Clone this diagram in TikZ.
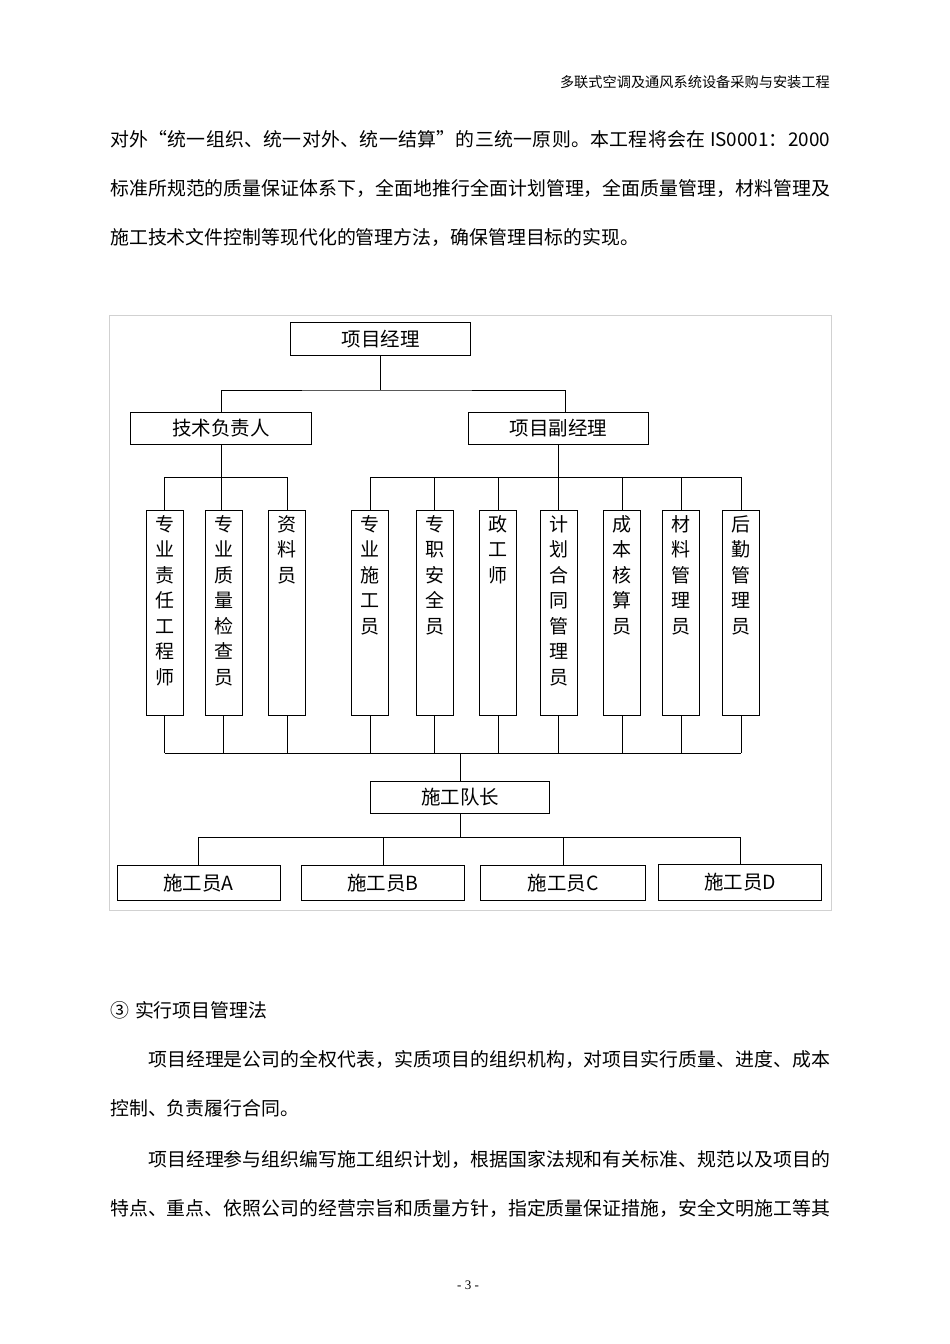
\documentclass[tikz,border=0pt]{standalone}
\usepackage{fontspec}
\setmainfont{Liberation Serif}
\newfontfamily\cjk{Noto Sans CJK SC}
\newcommand{\jl}[2]{\parbox{#1}{\XeTeXlinebreaklocale "zh"\XeTeXlinebreakskip=0pt plus 3pt\relax\parfillskip=0pt\relax\cjk\fontsize{18.9pt}{22pt}\selectfont #2}}
\newcommand{\vtxt}[1]{\parbox[c][195pt][t]{22pt}{\centering\cjk\fontsize{19pt}{25.5pt}\selectfont #1}}
\tikzset{
  hbox/.style={draw, line width=0.9pt, inner sep=0pt, minimum height=32pt, font=\cjk\fontsize{19.5pt}{21pt}\selectfont},
  vbox/.style={draw, line width=0.9pt, inner sep=5pt, minimum width=37pt, minimum height=205pt, anchor=north},
  link/.style={line width=0.9pt},
  ptext/.style={anchor=west, inner sep=0pt, font=\cjk\fontsize{18.9pt}{22pt}\selectfont},
  frame/.style={draw=black!18, line width=0.8pt}
}
\begin{document}
\begin{tikzpicture}[x=1pt,y=-1pt]
\path[use as bounding box, fill=white] (0,0) rectangle (950,1344);

% header and text
\node[anchor=east, inner sep=0pt, font=\cjk\fontsize{14.2pt}{16pt}\selectfont] (hdr) at (830,82) {多联式空调及通风系统设备采购与安装工程};
\node[anchor=west, inner sep=0pt] (l1) at (110,139) {\jl{720pt}{对外“统一组织、统一对外、统一结算”的三统一原则。本工程将会在 IS0001：2000}};
\node[anchor=west, inner sep=0pt] (l2) at (110,188) {\jl{720pt}{标准所规范的质量保证体系下，全面地推行全面计划管理，全面质量管理，材料管理及}};
\node[ptext] (l3) at (110,238) {施工技术文件控制等现代化的管理方法，确保管理目标的实现。};

% chart frame
\draw[frame] (109,315) rectangle (831,910);

% top level
\node[hbox, minimum width=180pt, minimum height=33pt] (pm) at (380.5,339) {项目经理};
\node[hbox, minimum width=181pt] (tech) at (221,428.5) {技术负责人};
\node[hbox, minimum width=180pt] (dpm) at (558.5,428.5) {项目副经理};

% vertical boxes
\node[vbox] (v1) at (164.5,510) {\vtxt{专\\业\\责\\任\\工\\程\\师}};
\node[vbox] (v2) at (223.5,510) {\vtxt{专\\业\\质\\量\\检\\查\\员}};
\node[vbox] (v3) at (287,510) {\vtxt{资\\料\\员}};
\node[vbox] (v4) at (370,510) {\vtxt{专\\业\\施\\工\\员}};
\node[vbox] (v5) at (434.5,510) {\vtxt{专\\职\\安\\全\\员}};
\node[vbox] (v6) at (498,510) {\vtxt{政\\工\\师}};
\node[vbox] (v7) at (558.5,510) {\vtxt{计\\划\\合\\同\\管\\理\\员}};
\node[vbox] (v8) at (622,510) {\vtxt{成\\本\\核\\算\\员}};
\node[vbox] (v9) at (681,510) {\vtxt{材\\料\\管\\理\\员}};
\node[vbox] (v10) at (741,510) {\vtxt{后\\勤\\管\\理\\员}};

% lower levels
\node[hbox, minimum width=179pt] (lead) at (460,797.5) {施工队长};
\node[hbox, minimum width=163pt, minimum height=35pt] (wa) at (198.5,883) {施工员A};
\node[hbox, minimum width=163pt, minimum height=35pt] (wb) at (383,883) {施工员B};
\node[hbox, minimum width=165pt, minimum height=35pt] (wc) at (563,883) {施工员C};
\node[hbox, minimum width=163pt, minimum height=36pt, line width=1.5pt] (wd) at (740,882.5) {施工员D};

% junction levels
\coordinate (j1) at (380.5,390);
\coordinate (hl) at (0,477);
\coordinate (bl) at (0,753);
\coordinate (cl) at (0,837);

% connectors: top
\draw[link] (pm.south) -- (j1);
\draw[link] (tech.north) |- (j1) -| ([xshift=7pt]dpm.north);

% left group
\draw[link] (tech.south) -- (tech.south |- v2.north);
\draw[link] (v1.north) -- (v1.north |- hl) -- (v3.north |- hl) -- (v3.north);

% right group
\draw[link] (dpm.south) -- (dpm.south |- v7.north);
\draw[link] (v4.north) -- (v4.north |- hl) -- (v10.north |- hl) -- (v10.north);
\foreach \n in {v5,v6,v8,v9} { \draw[link] (\n.north) -- (\n.north |- hl); }

% bottom of vertical boxes
\foreach \n in {v1,v2,v3,v4,v5,v6,v7,v8,v9,v10} { \draw[link] (\n.south) -- (\n.south |- bl); }
\draw[link] (v1.south |- bl) -- (v10.south |- bl);
\draw[link] (lead.north) -- (lead.north |- bl);

% to workers
\draw[link] (lead.south) -- (lead.south |- cl);
\draw[link] (wa.north) -- (wa.north |- cl) -- (wd.north |- cl) -- (wd.north);
\draw[link] (wb.north) -- (wb.north |- cl);
\draw[link] (wc.north) -- (wc.north |- cl);

% lower text
\node[ptext] (s3) at (110,1010) {③\hspace{6pt}实行项目管理法};
\node[anchor=west, inner sep=0pt] (q1) at (148,1059) {\jl{682pt}{项目经理是公司的全权代表，实质项目的组织机构，对项目实行质量、进度、成本}};
\node[ptext] (q2) at (110,1108) {控制、负责履行合同。};
\node[anchor=west, inner sep=0pt] (q3) at (148,1159) {\jl{682pt}{项目经理参与组织编写施工组织计划，根据国家法规和有关标准、规范以及项目的}};
\node[anchor=west, inner sep=0pt] (q4) at (110,1208) {\jl{720pt}{特点、重点、依照公司的经营宗旨和质量方针，指定质量保证措施，安全文明施工等其}};
\node[inner sep=0pt, font=\fontsize{13pt}{15pt}\selectfont] (pg) at (468,1285) {- 3 -};
\end{tikzpicture}
\end{document}
